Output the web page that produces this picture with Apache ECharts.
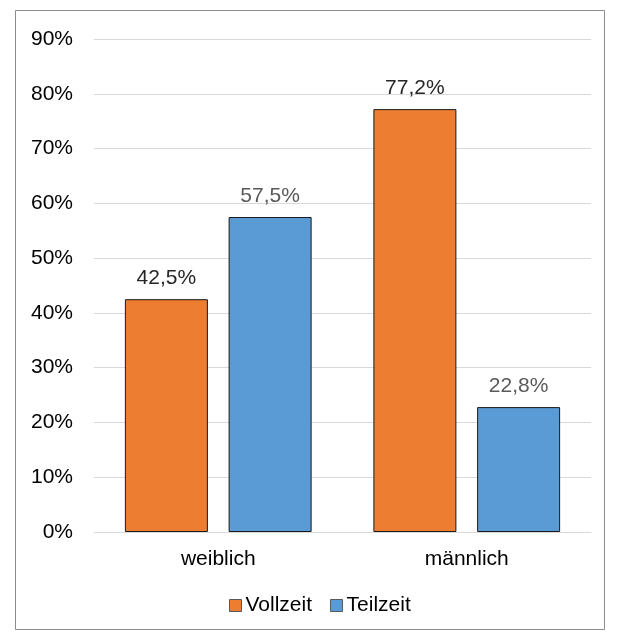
<!DOCTYPE html>
<html><head><meta charset="utf-8">
<script src="https://cdn.jsdelivr.net/npm/echarts@6/dist/echarts.min.js"></script>
<style>html,body{margin:0;padding:0;background:#fff}#c{width:620px;height:639px}</style>
</head><body><div id="c"></div>
<script>
const categories = ['weiblich', 'männlich'];
const vollzeit = [42.5, 77.2];
const teilzeit = [57.5, 22.8];
const seriesNames = ['Vollzeit', 'Teilzeit'];
const yTicks = [0, 10, 20, 30, 40, 50, 60, 70, 80, 90];

const fmt = v => v.toFixed(1).replace('.', ',') + '%';
const chart = echarts.init(document.getElementById('c'), null, {renderer: 'canvas'});
const font = '"Liberation Sans", Arial, sans-serif';
const fs = 21;
chart.setOption({
  animation: false,
  textStyle: {fontFamily: font},
  graphic: [{type: 'rect', shape: {x: 15.5, y: 10.5, width: 589, height: 619}, style: {fill: 'none', stroke: '#8c8c8c', lineWidth: 1}, z: -1}],
  grid: {left: 94, right: 29, top: 39, bottom: 107},
  legend: {
    data: seriesNames, top: 595, left: 229, padding: 0, itemWidth: 12, itemHeight: 12, itemGap: 18,
    icon: 'rect',
    textStyle: {fontSize: fs, color: '#000', fontFamily: font, padding: [0,0,0,-1]},
    itemStyle: {borderColor: '#595959', borderWidth: 1}
  },
  xAxis: {
    type: 'category', data: categories,
    axisLine: {lineStyle: {color: '#d9d9d9', width: 1}},
    axisTick: {show: false},
    axisLabel: {fontSize: fs, color: '#000', margin: 17, fontFamily: font}
  },
  yAxis: {
    type: 'value', min: yTicks[0], max: yTicks[yTicks.length-1], interval: 10,
    axisLabel: {formatter: v => v + '%', fontSize: fs, color: '#000', margin: 21, fontFamily: font},
    splitLine: {lineStyle: {color: '#d9d9d9', width: 1}},
    axisLine: {show: false}, axisTick: {show: false}
  },
  series: [
    {name: seriesNames[0], type: 'bar', data: vollzeit, barWidth: '33.4%', barGap: '25%',
     itemStyle: {color: '#ED7D31', borderColor: '#1a1a1a', borderWidth: 1},
     label: {show: true, position: 'top', distance: 10, formatter: p => fmt(p.value), fontSize: fs, color: '#262626', fontFamily: font}},
    {name: seriesNames[1], type: 'bar', data: teilzeit, barWidth: '33.4%',
     itemStyle: {color: '#5B9BD5', borderColor: '#1a1a1a', borderWidth: 1},
     label: {show: true, position: 'top', distance: 10, formatter: p => fmt(p.value), fontSize: fs, color: '#595959', fontFamily: font}}
  ]
});
</script></body></html>
